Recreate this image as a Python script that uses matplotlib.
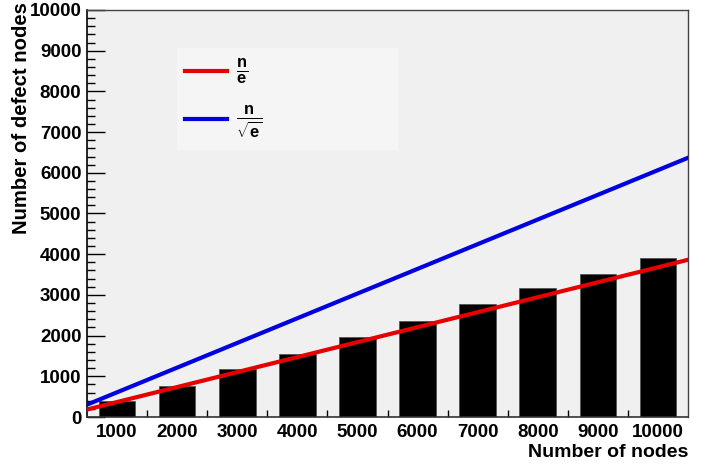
import numpy as np
import matplotlib
matplotlib.use('Agg')
from matplotlib import pyplot as plt
from matplotlib.ticker import MultipleLocator, FixedLocator

plt.rcParams['font.family'] = ['Liberation Sans', 'DejaVu Sans']
plt.rcParams['font.weight'] = 'bold'
plt.rcParams['mathtext.fontset'] = 'custom'
plt.rcParams['mathtext.rm'] = 'Liberation Sans:bold'
plt.rcParams['mathtext.it'] = 'Liberation Sans:bold'
plt.rcParams['mathtext.bf'] = 'Liberation Sans:bold'

# nodes vs defect nodes
nodes = [1000, 2000, 3000, 4000, 5000, 6000, 7000, 8000, 9000, 10000]
defects = [395, 750, 1175, 1555, 1960, 2365, 2775, 3170, 3515, 3910]
tick_labels = ['1000', '2000', '3000', '4000', '5000', '6000', '7000', '8000', '9000', '10000']

xlo, xhi = 500, 10500
n = np.linspace(xlo, xhi, 200)

fig = plt.figure(figsize=(7.15, 4.65), dpi=100)
ax = fig.add_axes([87/715, 48/465, 601/715, 407/465])
ax.set_facecolor('#f0f0f0')

ax.bar(nodes, defects, width=610, color='black', edgecolor='#555555', linewidth=0.6, zorder=2)
l1, = ax.plot(n, n/np.e, color='#e60000', lw=3, zorder=3)
l2, = ax.plot(n, n/np.sqrt(np.e), color='#0000e0', lw=3, zorder=3)

ax.set_xlim(xlo, xhi)
ax.set_ylim(0, 10000)

# y axis: labels every 1000, inward ticks
ax.yaxis.set_major_locator(MultipleLocator(1000))
ax.yaxis.set_minor_locator(MultipleLocator(200))
ax.tick_params(axis='y', which='major', direction='in', length=13, width=1, labelsize=13.5, pad=4)
ax.tick_params(axis='y', which='minor', direction='in', length=6, width=1)

# x axis: short ticks at bin edges, labels at bin centres
ax.xaxis.set_major_locator(FixedLocator(nodes))
ax.set_xticklabels(tick_labels)
ax.xaxis.set_minor_locator(FixedLocator([x + 500 for x in nodes[:-1]]))
ax.tick_params(axis='x', which='major', length=0, labelsize=13.5, pad=5)
ax.tick_params(axis='x', which='minor', direction='in', length=5, width=1)
for lab in ax.get_xticklabels() + ax.get_yticklabels():
    lab.set_fontweight('bold')

for side in ['top', 'right']:
    ax.spines[side].set_color('#444444')
    ax.spines[side].set_linewidth(1)
ax.spines['left'].set_linewidth(1.2)
ax.spines['bottom'].set_linewidth(1.2)
ax.spines['bottom'].set_color('#333333')

fig.text(688/715, 1 - 452/465, 'Number of nodes', ha='right', va='center',
         fontsize=14, fontweight='bold')
fig.text(22/715, 1 - 2/465, 'Number of defect nodes', ha='center', va='top',
         rotation=90, fontsize=14.6, fontweight='bold')

# legend box
leg = ax.legend([l1, l2], [r'$\frac{n}{e}$', r'$\frac{n}{\sqrt{e}}$'],
                loc='center left', bbox_to_anchor=((177 - 87)/601, (417 - 146)/407, 220/601, 95/407),
                mode='expand', frameon=True, fancybox=False, fontsize=17,
                handlelength=1.75, handletextpad=0.4, labelspacing=0.75, borderpad=0.35,
                borderaxespad=0)
leg.get_frame().set_facecolor('#f5f5f5')
leg.get_frame().set_edgecolor('#f5f5f5')
leg.get_frame().set_alpha(1)
leg.set_zorder(4)

fig.savefig('out.png', dpi=100, facecolor='white')
